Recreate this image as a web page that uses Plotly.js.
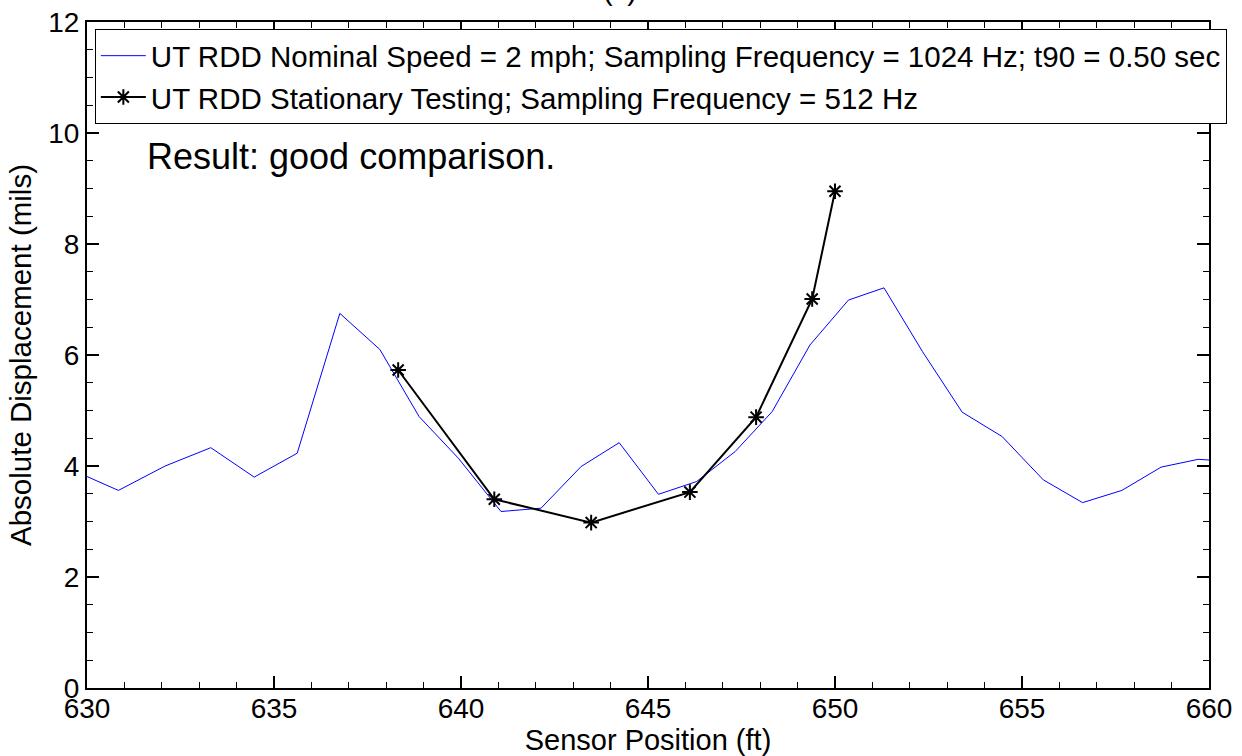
<!DOCTYPE html>
<html>
<head>
<meta charset="utf-8">
<script src="https://cdn.plot.ly/plotly-3.0.1.min.js"></script>
<style>html,body{margin:0;padding:0;background:#fff;}#chart{width:1242px;height:756px;}</style>
</head>
<body>
<div id="chart"></div>
<script>
// Moving test (UT RDD nominal speed 2 mph)
const movingPosition = [630.0, 630.84, 632.09, 633.31, 634.47, 635.62, 636.76, 637.83, 638.88, 639.93,
  641.07, 642.14, 643.21, 644.23, 645.28, 646.30, 647.33, 648.32, 649.33, 650.36,
  651.31, 652.34, 653.40, 654.47, 655.57, 656.62, 657.67, 658.72, 659.71, 660.2];
const movingDisp = [3.81, 3.56, 4.00, 4.33, 3.80, 4.23, 6.75, 6.10, 4.89, 4.14,
  3.18, 3.24, 3.99, 4.42, 3.49, 3.72, 4.26, 4.98, 6.18, 6.99,
  7.21, 6.06, 4.97, 4.53, 3.75, 3.34, 3.56, 3.98, 4.12, 4.10];
// Stationary test
const statPosition = [638.32, 640.89, 643.48, 646.12, 647.89, 649.39, 650.0];
const statDisp = [5.73, 3.40, 2.98, 3.53, 4.88, 7.01, 8.95];

const seriesNames = [
  'UT RDD Nominal Speed = 2 mph; Sampling Frequency = 1024 Hz; t90 = 0.50 sec',
  'UT RDD Stationary Testing; Sampling Frequency = 512 Hz'
];
const xTitle = 'Sensor Position (ft)';
const yTitle = 'Absolute Displacement (mils)';
const noteText = 'Result: good comparison.';
const panelLabel = '(c)';

const FONT = 'Liberation Sans, Arial, sans-serif';

const traces = [
  {x: movingPosition, y: movingDisp, name: seriesNames[0], type: 'scatter', mode: 'lines',
   line: {color: '#0000ff', width: 1}},
  {x: statPosition, y: statDisp, name: seriesNames[1], type: 'scatter', mode: 'lines+markers',
   line: {color: '#000000', width: 2},
   marker: {symbol: 'asterisk-open', size: 13, color: '#000', line: {color: '#000', width: 2}}}
];

const axisCommon = {
  showline: true, linecolor: '#000', linewidth: 2, mirror: 'ticks',
  ticks: 'inside', ticklen: 12, tickwidth: 1.5, tickcolor: '#000',
  showgrid: false, zeroline: false,
  tickfont: {family: FONT, size: 28, color: '#000'},
  automargin: false
};

const layout = {
  width: 1242, height: 756,
  paper_bgcolor: '#fff', plot_bgcolor: '#fff',
  margin: {l: 87, r: 33, t: 22, b: 68, autoexpand: false},
  showlegend: true,
  legend: {x: 0.007, y: 0.9895, xanchor: 'left', yanchor: 'top', xref: 'paper', yref: 'paper',
           bgcolor: '#fff', bordercolor: '#000', borderwidth: 1,
           font: {family: FONT, size: 29.5, color: '#000'}, itemwidth: 45, tracegroupgap: 0},
  xaxis: Object.assign({}, axisCommon, {
    range: [630, 660], dtick: 5, tick0: 630, ticklabelstandoff: -6,
    minor: {dtick: 1, ticks: 'inside', ticklen: 6, tickwidth: 1.2, tickcolor: '#000'},
    title: {text: xTitle, font: {family: FONT, size: 29, color: '#000'}, standoff: 8}
  }),
  yaxis: Object.assign({}, axisCommon, {
    range: [0, 12], dtick: 2, tick0: 0,
    minor: {dtick: 0.5, ticks: 'inside', ticklen: 6, tickwidth: 1.2, tickcolor: '#000'},
    title: {text: yTitle, font: {family: FONT, size: 29.5, color: '#000'}, standoff: 8}
  }),
  annotations: [
    {text: noteText, xref: 'paper', yref: 'paper', x: 0.052, y: 0.798, xanchor: 'left', yanchor: 'middle',
     showarrow: false, font: {family: FONT, size: 36, color: '#000'}},
    {text: panelLabel, xref: 'paper', yref: 'paper', x: 0.475, y: 1.048, xanchor: 'center', yanchor: 'middle',
     showarrow: false, font: {family: FONT, size: 29, color: '#000'}}
  ]
};

Plotly.newPlot('chart', traces, layout, {displayModeBar: false, staticPlot: true});
</script>
</body>
</html>
